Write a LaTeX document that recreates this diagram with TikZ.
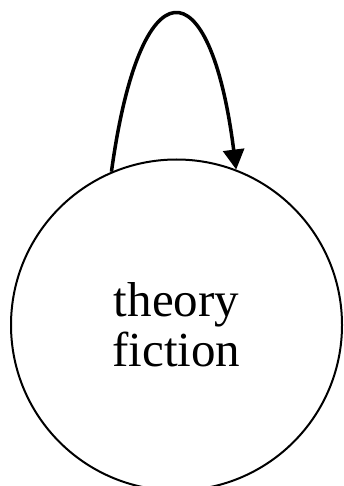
\documentclass[tikz,border=0pt]{standalone}
\usepackage{fontspec}
\setmainfont{Liberation Serif}
\usetikzlibrary{arrows.meta,positioning}

\begin{document}
\begin{tikzpicture}[x=1pt,y=-1pt]
  \useasboundingbox (0,0) rectangle (344,486);
  % State
  \node[draw,circle,line width=2pt,minimum size=331pt,inner sep=0pt,align=center,
        font=\fontsize{49}{50}\selectfont] (tf) at (176.5,325) {theory\\fiction};
  % Self loop
  \draw[-{Triangle[length=20pt,width=21pt]},line width=3.5pt]
    (tf.113) .. controls (140,-37) and (210,-37) .. (tf.69);
\end{tikzpicture}
\end{document}
